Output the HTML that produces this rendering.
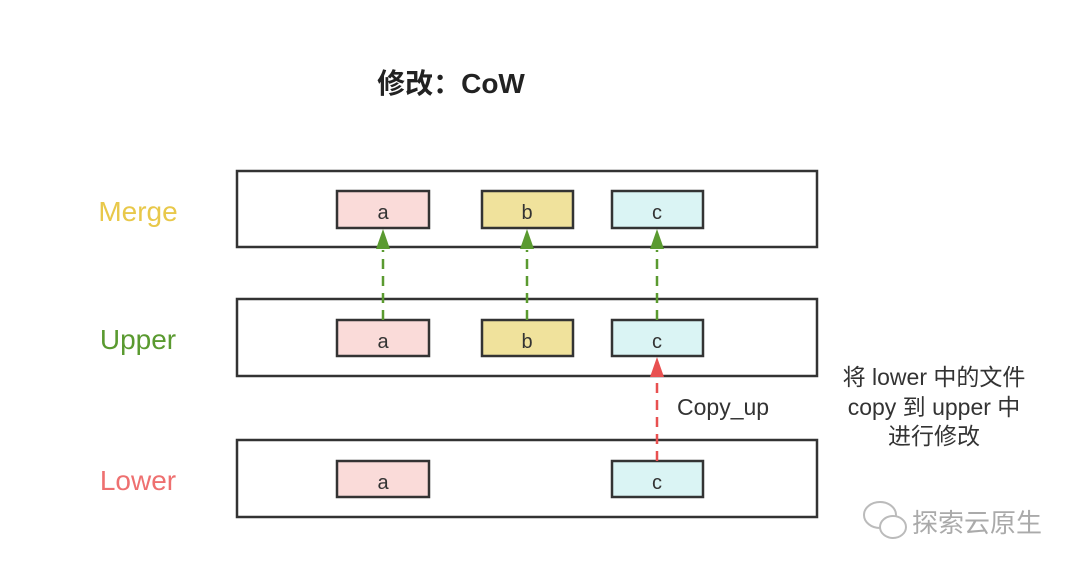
<!DOCTYPE html>
<html><head><meta charset="utf-8"><style>
body{margin:0;width:1080px;height:570px;background:#fff;overflow:hidden}
svg text{font-family:"Liberation Sans","Noto Sans CJK SC",sans-serif}
</style></head><body>
<svg width="1080" height="570" xmlns="http://www.w3.org/2000/svg">
<text x="451" y="93" font-size="28" font-weight="bold" fill="#222" text-anchor="middle">修改：CoW</text>
<g font-size="28" text-anchor="middle">
<text x="138" y="221" fill="#e8c84a">Merge</text>
<text x="138" y="349" fill="#5a9a30">Upper</text>
<text x="138" y="490" fill="#ee7070">Lower</text>
</g>
<g fill="#fff" stroke="#333" stroke-width="2.5">
<rect x="237" y="171" width="580" height="76"/>
<rect x="237" y="299" width="580" height="77"/>
<rect x="237" y="440" width="580" height="77"/>
</g>
<g stroke="#333" stroke-width="2.5">
<rect x="337" y="191" width="92" height="37" fill="#fadbd9"/>
<rect x="482" y="191" width="91" height="37" fill="#f0e29c"/>
<rect x="612" y="191" width="91" height="37" fill="#daf4f4"/>
<rect x="337" y="320" width="92" height="36" fill="#fadbd9"/>
<rect x="482" y="320" width="91" height="36" fill="#f0e29c"/>
<rect x="612" y="320" width="91" height="36" fill="#daf4f4"/>
<rect x="337" y="461" width="92" height="36" fill="#fadbd9"/>
<rect x="612" y="461" width="91" height="36" fill="#daf4f4"/>
</g>
<g font-size="20" fill="#333" text-anchor="middle">
<text x="383" y="219">a</text><text x="527" y="219">b</text><text x="657" y="219">c</text>
<text x="383" y="348">a</text><text x="527" y="348">b</text><text x="657" y="348">c</text>
<text x="383" y="489">a</text><text x="657" y="489">c</text>
</g>
<g stroke="#5a9a30" stroke-width="2.5" stroke-dasharray="10,7">
<line x1="383" y1="320" x2="383" y2="250"/>
<line x1="527" y1="320" x2="527" y2="250"/>
<line x1="657" y1="320" x2="657" y2="250"/>
</g>
<g fill="#5a9a30">
<polygon points="383,229 376,249 390,249"/>
<polygon points="527,229 520,249 534,249"/>
<polygon points="657,229 650,249 664,249"/>
</g>
<line x1="657" y1="461" x2="657" y2="378" stroke="#e85050" stroke-width="2.5" stroke-dasharray="10,7"/>
<polygon points="657,357 650,377 664,377" fill="#e85050"/>
<text x="677" y="415" font-size="23" fill="#333">Copy_up</text>
<g font-size="23" fill="#333" text-anchor="middle">
<text x="934" y="385">将 lower 中的文件</text>
<text x="934" y="415">copy 到 upper 中</text>
<text x="934" y="444">进行修改</text>
</g>
<g fill="none" stroke="#bbb" stroke-width="2">
<ellipse cx="880" cy="515" rx="16" ry="13"/>
<ellipse cx="893" cy="527" rx="13" ry="11" fill="#fff"/>
</g>
<text x="912" y="532" font-size="26" fill="#aaa">探索云原生</text>
</svg>
</body></html>
